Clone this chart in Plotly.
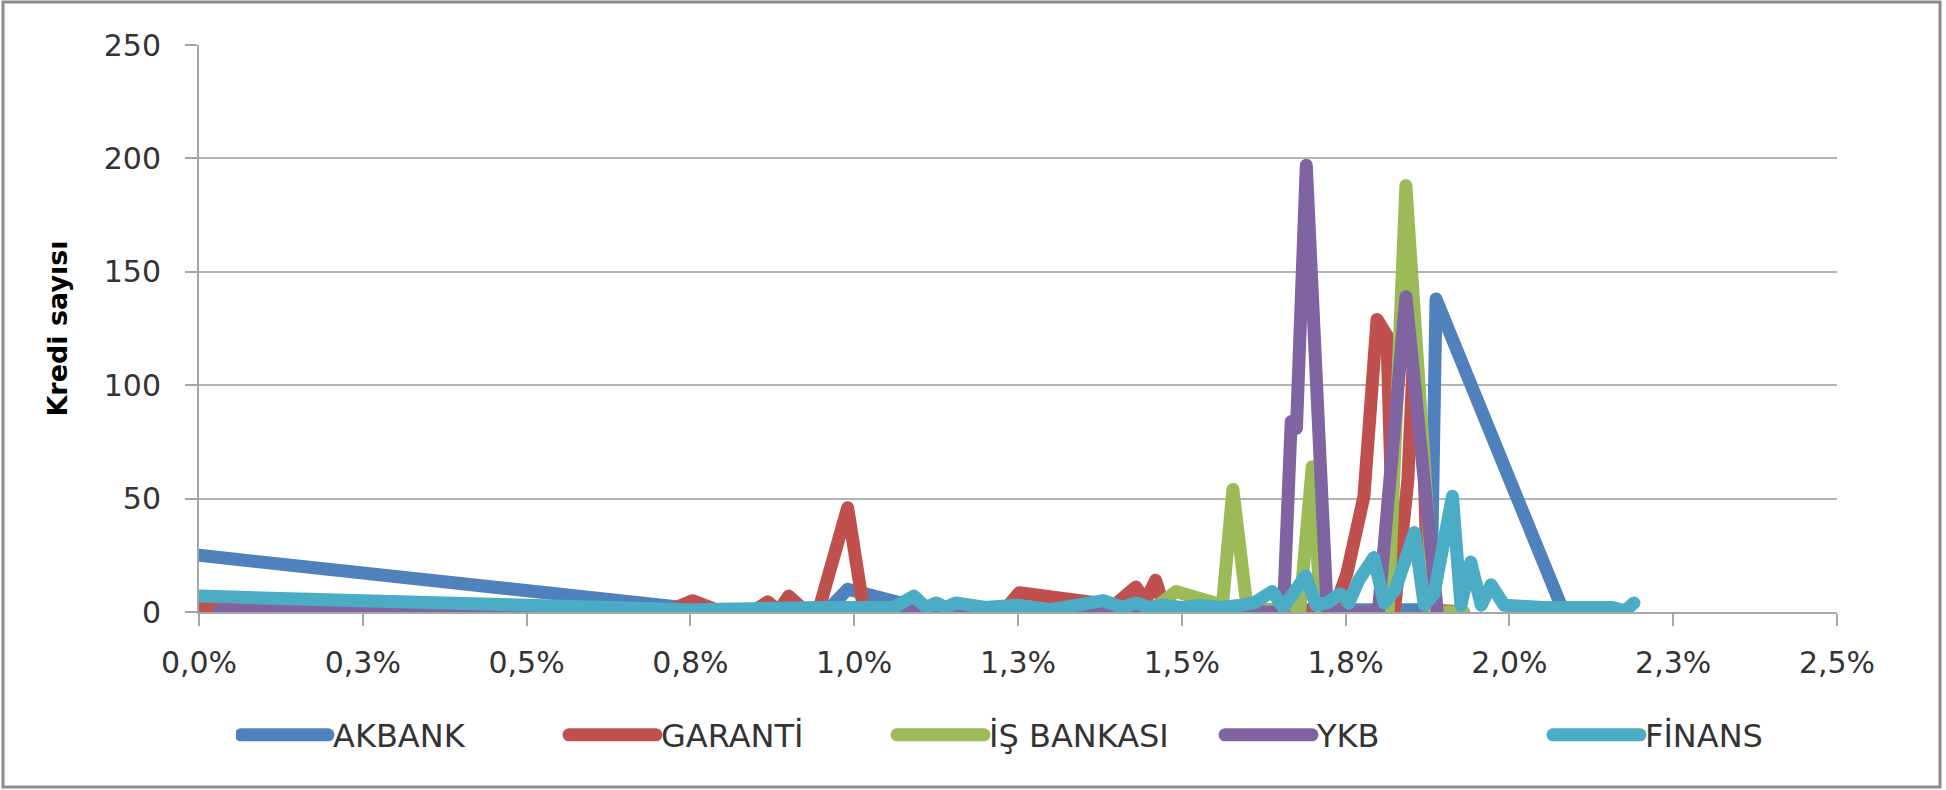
import plotly.graph_objects as go

# faiz oranı (%) ve kredi sayısı
akbank_x = [0.00, 0.77, 0.96, 0.99, 1.085, 1.12, 1.30, 1.50, 1.70, 1.88, 1.888, 2.08]
akbank_y = [25, 1, 1, 10, 3, 1, 1, 1, 1, 1, 138, 2]

garanti_x = [0.00, 0.72, 0.753, 0.79, 0.85, 0.868, 0.885, 0.90, 0.925, 0.945, 0.99, 1.015,
             1.10, 1.23, 1.252, 1.37, 1.397, 1.43, 1.445, 1.46, 1.475, 1.60, 1.72, 1.735,
             1.752, 1.778, 1.798, 1.813, 1.825, 1.845, 1.855, 1.870, 1.876, 1.93]
garanti_y = [2.5, 1, 5, 1, 1, 4.5, 0.5, 7, 0.5, 0, 46, 0,
             1, 1, 8.5, 3, 3, 11, 5, 14, 0.5, 0.5, 0.5, 3,
             17, 51, 129, 122, 2, 58, 122, 63, 1, 0]

isbank_x = [1.40, 1.46, 1.491, 1.53, 1.562, 1.578, 1.60, 1.68, 1.699, 1.712, 1.815, 1.842, 1.885, 1.93]
isbank_y = [0, 2, 9, 5, 3, 54, 1, 1, 64, 0, 0, 188, 0, 0]

ykb_x = [0.03, 0.30, 0.60, 0.90, 1.20, 1.50, 1.655, 1.667, 1.675, 1.690, 1.722, 1.80, 1.842, 1.89]
ykb_y = [0.5, 0.5, 0.3, 0.5, 0.5, 0.5, 0, 84, 81, 197, 0, 0, 139, 0]

finans_x = [0.00, 0.75, 0.95, 1.00, 1.06, 1.091, 1.11, 1.125, 1.14, 1.155, 1.20, 1.248, 1.30,
            1.38, 1.41, 1.43, 1.45, 1.47, 1.50, 1.53, 1.56, 1.59, 1.61, 1.638, 1.655, 1.689,
            1.705, 1.722, 1.742, 1.755, 1.77, 1.793, 1.809, 1.826, 1.855, 1.87, 1.885, 1.913,
            1.926, 1.941, 1.957, 1.972, 1.992, 2.05, 2.157, 2.177, 2.19]
finans_y = [7, 1, 2, 2, 2, 7, 2, 4, 2, 4, 2, 3, 1,
            5, 2, 4, 2, 3, 2, 3, 2, 3, 4, 9, 2, 16,
            3, 4, 8, 4, 14, 24, 4, 10, 35, 3, 8, 51,
            3, 22, 3, 12, 3, 2, 2, 0.5, 4]

x_ticks = [0, 0.25, 0.5, 0.75, 1.0, 1.25, 1.5, 1.75, 2.0, 2.25, 2.5]
x_labels = ["0,0%", "0,3%", "0,5%", "0,8%", "1,0%", "1,3%", "1,5%", "1,8%", "2,0%", "2,3%", "2,5%"]

series = [
    ("AKBANK", akbank_x, akbank_y, "#4F81BD"),
    ("GARANTİ", garanti_x, garanti_y, "#C0504D"),
    ("İŞ BANKASI", isbank_x, isbank_y, "#9BBB59"),
    ("YKB", ykb_x, ykb_y, "#8064A2"),
    ("FİNANS", finans_x, finans_y, "#4BACC6"),
]

W, H = 1946, 790
ml, mr, mt, mb = 199, 109, 45, 178
pw, ph = W - ml - mr, H - mt - mb

fig = go.Figure()
for name, xs, ys, col in series:
    fig.add_trace(go.Scatter(x=xs, y=ys, mode="lines", name=name,
                             line=dict(color=col, width=13)))

grey = "#a6a6a6"
tick_font = dict(family="DejaVu Sans", size=30, color="#333333")

fig.update_layout(
    width=W, height=H,
    margin=dict(l=ml, r=mr, t=mt, b=mb),
    paper_bgcolor="white", plot_bgcolor="white",
    showlegend=True,
    legend=dict(orientation="h", x=(236 - ml) / pw, xanchor="left",
                y=(ph + mt - 735) / ph, yanchor="middle",
                font=dict(family="DejaVu Sans", size=32, color="#333333"),
                itemwidth=87, entrywidth=226, entrywidthmode="pixels",
                bgcolor="rgba(0,0,0,0)"),
    xaxis=dict(range=[0, 2.5], tickvals=x_ticks, ticktext=x_labels,
               showgrid=False, zeroline=False, showline=True, linecolor=grey, linewidth=2,
               ticks="outside", ticklen=12, tickwidth=2, tickcolor=grey,
               tickfont=tick_font, ticklabelstandoff=11),
    yaxis=dict(range=[0, 250], dtick=50, showgrid=True, gridcolor="#b4b4b4", gridwidth=2,
               zeroline=False, showline=True, linecolor=grey, linewidth=2,
               ticks="outside", ticklen=12, tickwidth=2, tickcolor=grey,
               tickfont=tick_font, ticklabelstandoff=18,
               title=dict(text="Kredi sayısı", standoff=28,
                          font=dict(family="DejaVu Sans", size=27, color="#000000", weight="bold"))),
)

# grafik alanı çerçevesi
fig.add_shape(type="rect", xref="paper", yref="paper",
              x0=(3 - ml) / pw, x1=(1940 - ml) / pw,
              y0=(ph + mt - 787) / ph, y1=(ph + mt - 2) / ph,
              line=dict(color="#8c8c8c", width=3), layer="above")

page_js = ("document.body.style.margin='0';"
           "var s=document.createElement('style');"
           "s.textContent='.js-line{stroke-linejoin:round!important;stroke-linecap:round!important}"
           ".legendlines path{stroke-linecap:round!important;stroke-width:13px!important}';"
           "document.head.appendChild(s);")

fig.write_html("out.html", post_script=page_js, config={"displayModeBar": False})
